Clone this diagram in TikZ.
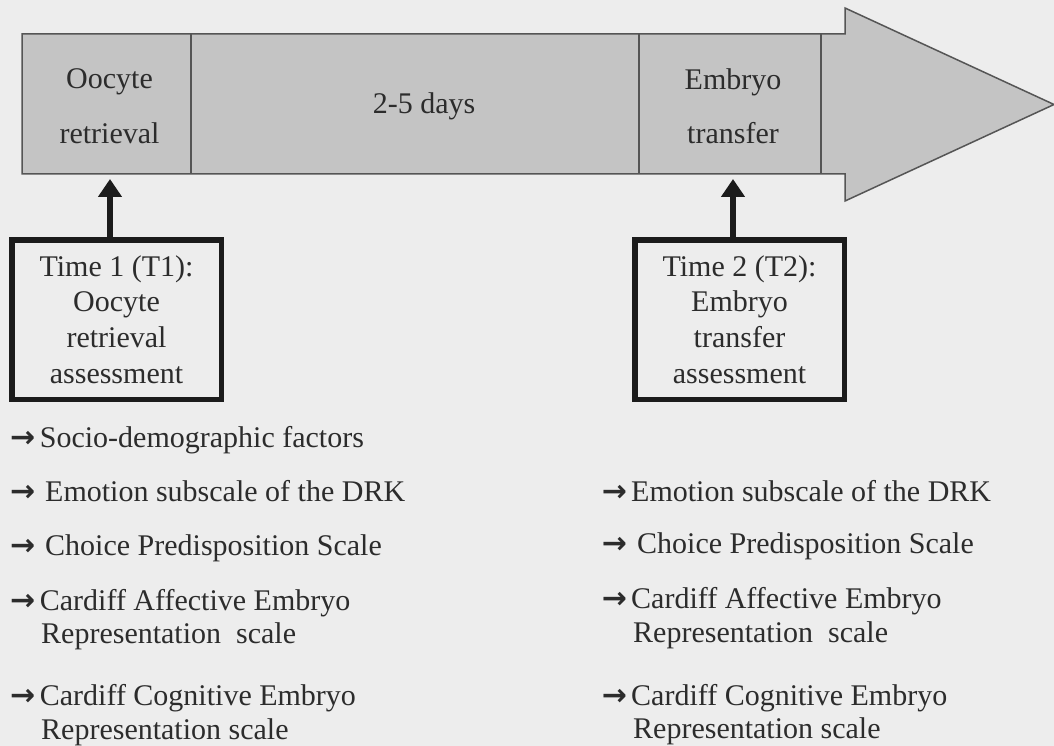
\documentclass[tikz,border=0pt]{standalone}
\usepackage{fontspec}
\setmainfont{Liberation Serif}
\newfontfamily\arrowglyph{DejaVu Sans}
\usetikzlibrary{arrows.meta}
\definecolor{paper}{HTML}{EDEDED}
\definecolor{band}{HTML}{C4C4C4}
\definecolor{rule}{HTML}{555555}
\definecolor{ink}{HTML}{2C2C2C}
\definecolor{frame}{HTML}{1C1C1C}
% arrow bullet in a box of given width
\newcommand{\itemarrow}[1]{\makebox[#1][l]{\arrowglyph\bfseries →}}

\begin{document}
\begin{tikzpicture}[x=1pt,y=-1pt,
  txt/.style={font=\fontsize{30}{36}\selectfont, text=ink, inner sep=0pt, anchor=base},
  line/.style={txt, anchor=base west},
  stagebox/.style={draw=frame, line width=5.5pt, fill=paper, minimum width=209.5pt,
    minimum height=159.5pt, inner sep=0pt, align=center,
    font=\fontsize{30}{35.7}\selectfont, text=ink},
  uparrow/.style={draw=frame, line width=6pt, -{Triangle[width=23pt,length=18pt]}},
]
\fill[paper] (0,0) rectangle (1054,746);
\path[use as bounding box] (0,0) rectangle (1054,746);

% timeline arrow with its three dividers
\filldraw[fill=band, draw=rule, line width=1.5pt, line join=miter]
  (22,34) -- (845,34) -- (845,8) -- (1054,104.5) -- (845,201) -- (845,174) -- (22,174) -- cycle;
\draw[rule, line width=1.3pt] (191,34) -- (191,174) (639,34) -- (639,174) (821,34) -- (821,174);

% stage labels
\node[txt] (oocA) at (109.5,89) {Oocyte};
\node[txt] (oocB) at (109.5,144) {retrieval};
\node[txt] (days) at (424,114) {2-5 days};
\node[txt] (embA) at (733,90) {Embryo};
\node[txt] (embB) at (733,144) {transfer};

% assessment boxes
\node[stagebox] (t1) at (116.5,319.5) {Time 1 (T1):\\Oocyte\\retrieval\\assessment};
\node[stagebox] (t2) at (739.5,319.5) {Time 2 (T2):\\Embryo\\transfer\\assessment};

% pointers up to the timeline
\coordinate (p1) at (110,179);
\coordinate (p2) at (733,179);
\draw[uparrow] (t1.north -| p1) -- (p1);
\draw[uparrow] (t2.north -| p2) -- (p2);

% measures at T1
\node[line] (l1) at (10,447) {\itemarrow{29.7pt}Socio-demographic factors};
\node[line] (l2) at (10,501) {\itemarrow{35pt}Emotion subscale of the DRK};
\node[line] (l3) at (10,555) {\itemarrow{35pt}Choice Predisposition Scale};
\node[line] (l4) at (10,610) {\itemarrow{29.7pt}Cardiff Affective Embryo};
\node[line] (l4b) at (41,643) {Representation\ \ scale};
\node[line] (l5) at (10,705) {\itemarrow{29.7pt}Cardiff Cognitive Embryo};
\node[line] (l5b) at (41,739) {Representation scale};

% measures at T2
\node[line] (r2) at (601.7,501) {\itemarrow{29.3pt}Emotion subscale of the DRK};
\node[line] (r3) at (601.7,553) {\itemarrow{35.3pt}Choice Predisposition Scale};
\node[line] (r4) at (601.7,608) {\itemarrow{29.3pt}Cardiff Affective Embryo};
\node[line] (r4b) at (633,642) {Representation\ \ scale};
\node[line] (r5) at (601.7,705) {\itemarrow{29.3pt}Cardiff Cognitive Embryo};
\node[line] (r5b) at (633,738) {Representation scale};
\end{tikzpicture}
\end{document}
